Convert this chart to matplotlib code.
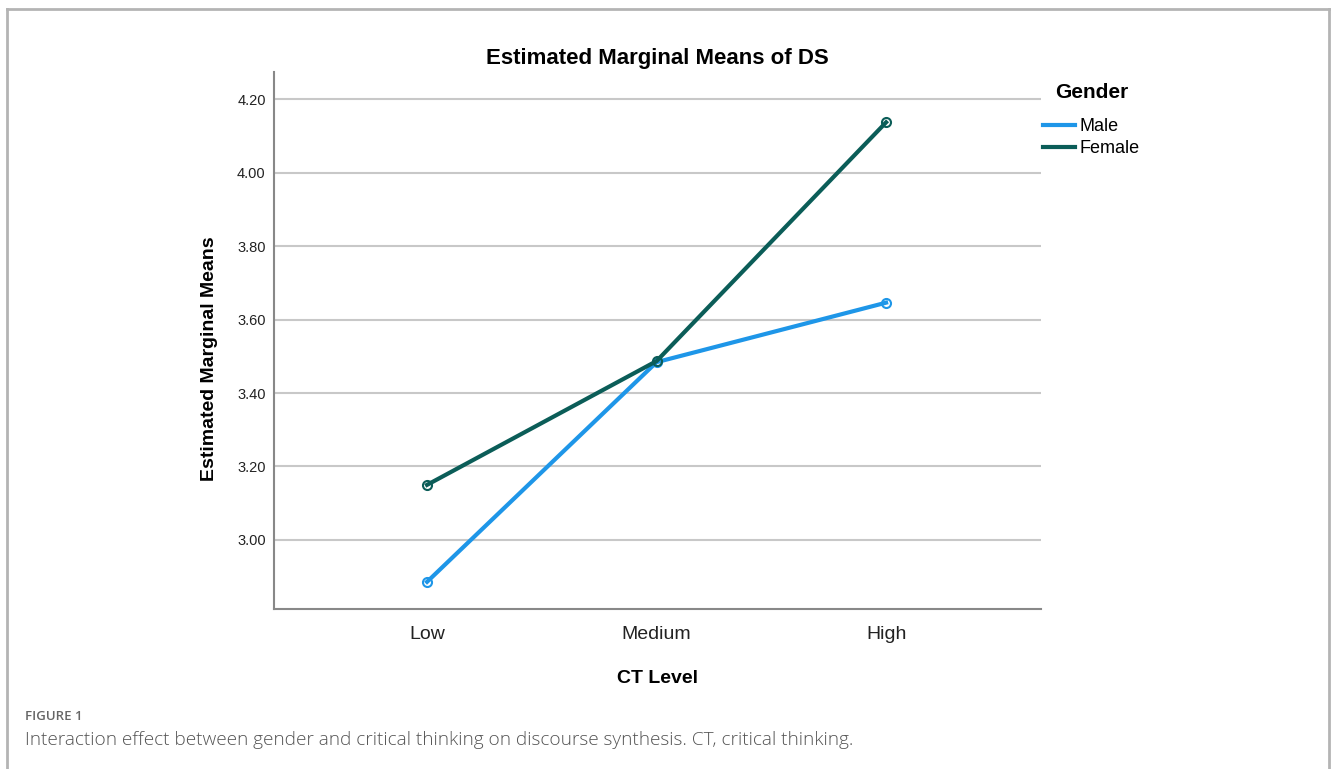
import matplotlib
matplotlib.use("Agg")
import matplotlib.pyplot as plt
from matplotlib.lines import Line2D

# dane
ct_levels = ["Low", "Medium", "High"]
male = [2.886, 3.484, 3.646]
female = [3.150, 3.487, 4.137]
y_ticks = [3.00, 3.20, 3.40, 3.60, 3.80, 4.00, 4.20]

MALE_COL = "#1e96e8"
FEMALE_COL = "#0b5d58"

plt.rcParams['font.family'] = ['Liberation Sans', 'DejaVu Sans']

fig = plt.figure(figsize=(13.33, 7.69), dpi=100)
ax = fig.add_axes([274/1333, 1 - 609/769, 767/1333, 537/769])

x = list(range(len(ct_levels)))

for yt in y_ticks:
    ax.axhline(yt, color="#c8c8c8", lw=1.5, zorder=1)

ax.plot(x, male, color=MALE_COL, lw=3, marker="o", ms=6.5, mfc="none",
        mec=MALE_COL, mew=1.5, zorder=3, label="Male")
ax.plot(x, female, color=FEMALE_COL, lw=3, marker="o", ms=6.5, mfc="none",
        mec=FEMALE_COL, mew=1.5, zorder=3, label="Female")

ax.set_xlim(-0.667, 2.675)
ax.set_ylim(2.812, 4.274)
ax.set_xticks(x)
ax.set_xticklabels(ct_levels, fontsize=14, color="#222222")
ax.set_yticks(y_ticks)
ax.set_yticklabels(["%.2f" % v for v in y_ticks], fontsize=10.5, color="#222222")
ax.tick_params(axis="x", length=0, pad=12)
ax.tick_params(axis="y", length=0, pad=6)

for s in ["top", "right"]:
    ax.spines[s].set_visible(False)
for s in ["left", "bottom"]:
    ax.spines[s].set_color("#888888")
    ax.spines[s].set_linewidth(1.5)

ax.set_title("Estimated Marginal Means of DS", fontsize=16, fontweight="bold", pad=6)
ax.set_ylabel("Estimated Marginal Means", fontsize=14, fontweight="bold")
ax.yaxis.set_label_coords(-0.073, 0.467)
ax.set_xlabel("CT Level", fontsize=14, fontweight="bold", labelpad=19.5)

# legenda
leg = ax.legend(loc="upper left", bbox_to_anchor=(1043/1333, 1 - 118/769),
                bbox_transform=fig.transFigure, frameon=False,
                fontsize=13, handlelength=1.75, handletextpad=0.25,
                labelspacing=0.3, borderaxespad=0, borderpad=0)
for line in leg.get_lines():
    line.set_linewidth(3)
    line.set_marker("")
fig.text(1055/1333, 1 - 93/769, "Gender", fontsize=15, fontweight="bold", va="center")

# ramka i podpis
border = "#b4b4b4"
fig.add_artist(Line2D([7/1333, 1329/1333], [1 - 9/769, 1 - 9/769], color=border, lw=2,
                      transform=fig.transFigure))
fig.add_artist(Line2D([7/1333, 7/1333], [0, 1 - 9/769], color=border, lw=2,
                      transform=fig.transFigure))
fig.add_artist(Line2D([1329/1333, 1329/1333], [0, 1 - 9/769], color=border, lw=2,
                      transform=fig.transFigure))

fig.text(25/1333, 1 - 717/769, "FIGURE 1", fontsize=9.5, color="#666666",
         family=["Open Sans", "DejaVu Sans"], fontweight="semibold", va="center")
fig.text(25/1333, 1 - 740/769,
         "Interaction effect between gender and critical thinking on discourse synthesis. CT, critical thinking.",
         fontsize=13.7, color="#555555", family=["Open Sans", "DejaVu Sans"],
         fontweight="light", va="center")

fig.savefig("out.png", dpi=100)
